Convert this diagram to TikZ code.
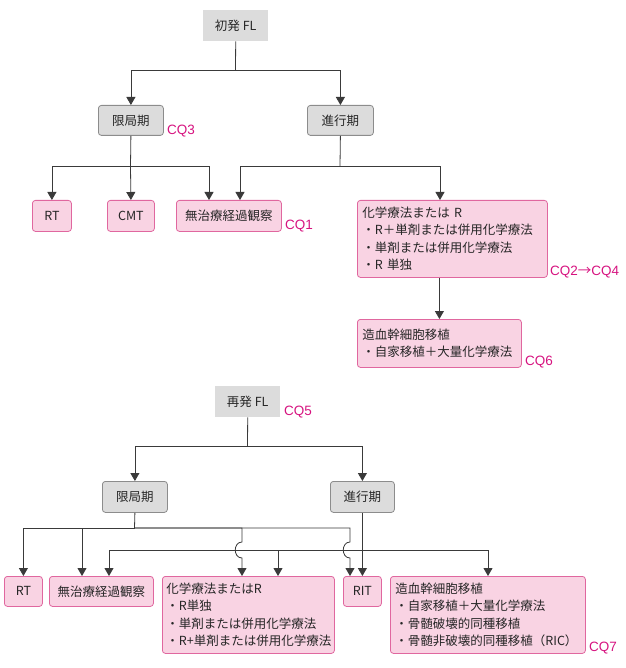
\documentclass[tikz,border=0pt]{standalone}
\usepackage{fontspec}
\setmainfont{Noto Sans CJK JP}
\newfontfamily\cqfont{Liberation Sans}
\newfontfamily\jpfont{Noto Sans CJK JP}
\usetikzlibrary{arrows.meta}
\definecolor{pinkfill}{HTML}{F9D3E3}
\definecolor{pinkline}{HTML}{E0679F}
\definecolor{cqcol}{HTML}{D6127F}
\definecolor{grayfill}{HTML}{DCDCDC}
\definecolor{grayline}{HTML}{8C8C8C}
\definecolor{linecol}{HTML}{3A3A3A}
\begin{document}
\begin{tikzpicture}[x=1pt,y=-1pt,
 every node/.style={font=\fontsize{12.5}{17.4}\selectfont, text=black!85},
 flbox/.style={fill=grayfill, draw=none, inner sep=0pt, anchor=north west},
 stagebox/.style={fill=grayfill, draw=grayline, rounded corners=3pt, line width=0.8pt, inner sep=0pt, anchor=north west},
 pbox/.style={fill=pinkfill, draw=pinkline, rounded corners=3pt, line width=0.8pt, inner sep=0pt, anchor=north west},
 mbox/.style={pbox, align=left, inner xsep=5pt},
 cq/.style={font=\cqfont\fontsize{13.5}{15}\selectfont, text=cqcol, anchor=west, inner sep=0pt},
 conn/.style={draw=linecol, line width=0.8pt},
 arr/.style={conn, -{Triangle[width=9pt,length=8pt]}},
]
\useasboundingbox (0,0) rectangle (625,668);

% ---------- top tree ----------
\node[flbox, minimum width=65pt, minimum height=31pt] (fl1) at (203,10) {初発 FL};
\node[stagebox, minimum width=65pt, minimum height=30pt] (lim1) at (98,105) {限局期};
\node[stagebox, minimum width=66pt, minimum height=30pt] (adv1) at (307,105) {進行期};
\node[cq] (cq3) at (167,131) {CQ3};

\node[pbox, minimum width=39pt, minimum height=31pt] (rt1) at (32,200) {RT};
\node[pbox, minimum width=47pt, minimum height=31pt] (cmt1) at (107,200) {CMT};
\node[pbox, minimum width=105pt, minimum height=31pt] (obs1) at (176,200) {無治療経過観察};
\node[cq] (cq1) at (285,226) {CQ1};

\node[mbox, text width=180pt, minimum height=77pt] (chemo1) at (357,200)
 {化学療法または R\\・R＋単剤または併用化学療法\\・単剤または併用化学療法\\・R 単独};
\node[cq] (cq24) at (550,272) {CQ2{\jpfont →}CQ4};

\node[mbox, text width=154pt, minimum height=48pt] (sct1) at (357,319)
 {造血幹細胞移植\\・自家移植＋大量化学療法};
\node[cq] (cq6) at (525,362) {CQ6};

\coordinate (t1) at (235.5,70);
\draw[conn] (fl1.south) -- (t1);
\draw[arr] (t1) -| (lim1.north);
\draw[arr] (t1) -| (adv1.north);

\coordinate (t2) at (130.5,166);
\coordinate (d3) at (209,166);
\draw[conn] (lim1.south) -- (t2);
\draw[arr] (t2) -| (rt1.north);
\draw[arr] (t2) -- (cmt1.north);
\draw[arr] (t2) -- (d3) -- (d3 |- obs1.north);

\coordinate (t3) at (340,166);
\coordinate (d4) at (240,166);
\coordinate (d5) at (440,166);
\draw[conn] (adv1.south) -- (t3);
\draw[arr] (t3) -- (d4) -- (d4 |- obs1.north);
\draw[arr] (t3) -- (d5) -- (d5 |- chemo1.north);
\draw[arr] (sct1.north |- chemo1.south) -- (sct1.north);

% ---------- bottom tree ----------
\node[flbox, minimum width=65pt, minimum height=31pt] (fl2) at (215,386) {再発 FL};
\node[cq] (cq5) at (284,412) {CQ5};
\node[stagebox, minimum width=65pt, minimum height=31pt] (lim2) at (102,481) {限局期};
\node[stagebox, minimum width=64pt, minimum height=31pt] (adv2) at (330,481) {進行期};

\node[pbox, minimum width=38pt, minimum height=30pt] (rt2) at (4,576) {RT};
\node[pbox, minimum width=104pt, minimum height=30pt] (obs2) at (49,576) {無治療経過観察};
\node[mbox, inner xsep=4pt, text width=164pt, minimum height=77pt] (chemo2) at (162,576)
 {化学療法またはR\\・R単独\\・単剤または併用化学療法\\・R+単剤または併用化学療法};
\node[pbox, minimum width=38pt, minimum height=30pt] (rit2) at (343,576) {RIT};
\node[mbox, text width=185pt, minimum height=77pt] (sct2) at (390,576)
 {造血幹細胞移植\\・自家移植＋大量化学療法\\・骨髄破壊的同種移植\\・骨髄非破壊的同種移植（RIC）};
\node[cq] (cq7) at (589,648) {CQ7};

\coordinate (b1) at (247.5,446);
\draw[conn] (fl2.south) -- (b1);
\draw[arr] (b1) -| (lim2.north);
\draw[arr] (b1) -| (adv2.north);

\coordinate (b2) at (134.5,528);
\coordinate (e2) at (82,528);
\coordinate (e3) at (242,528);
\coordinate (e4) at (350,528);
\draw[conn] (lim2.south) -- (b2);
\draw[arr] (b2) -| (rt2.north);
\draw[arr] (b2) -- (e2) -- (e2 |- obs2.north);
\draw[arr] (b2) -- (e3) -- ++(0,14) .. controls +(-9,0) and +(-9,0) .. ++(0,16) -- (e3 |- chemo2.north);
\draw[arr] (b2) -- (e4) -- ++(0,14) .. controls +(-9,0) and +(-9,0) .. ++(0,16) -- (e4 |- rit2.north);

\coordinate (f0) at (362,550);
\coordinate (f1) at (109,550);
\coordinate (f2) at (278,550);
\coordinate (f3) at (488,550);
\draw[arr] (adv2.south) -- (rit2.north);
\draw[arr] (f0) -- (f1) -- (f1 |- obs2.north);
\draw[arr] (f2) -- (f2 |- chemo2.north);
\draw[arr] (f0) -- (f3) -- (f3 |- sct2.north);
\end{tikzpicture}
\end{document}
